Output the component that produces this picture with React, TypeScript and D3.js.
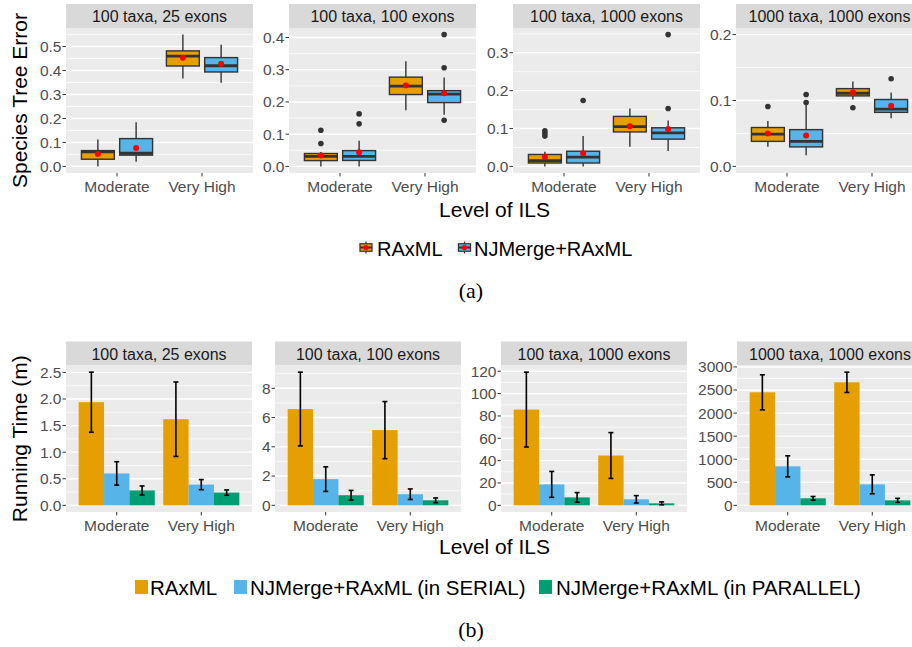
import * as d3 from "d3";

const levels = ["Moderate", "Very High"];
const datasets = ["100 taxa, 25 exons", "100 taxa, 100 exons", "100 taxa, 1000 exons", "1000 taxa, 1000 exons"];
const errorMethods = ["RAxML", "NJMerge+RAxML"];
const timeMethods = ["RAxML", "NJMerge+RAxML (in SERIAL)", "NJMerge+RAxML (in PARALLEL)"];

// [lower whisker, Q1, median, Q3, upper whisker, mean] per dataset, per level
const raxmlError = [
  [[0.0, 0.03, 0.061, 0.066, 0.112, 0.052], [0.367, 0.419, 0.46, 0.482, 0.55, 0.453]],
  [[0.0, 0.018, 0.031, 0.04, 0.045, 0.034], [0.174, 0.223, 0.249, 0.277, 0.326, 0.251]],
  [[0.0, 0.009, 0.0155, 0.0315, 0.039, 0.025], [0.052, 0.091, 0.105, 0.132, 0.153, 0.106]],
  [[0.03, 0.038, 0.049, 0.059, 0.069, 0.05], [0.1015, 0.107, 0.111, 0.118, 0.129, 0.1126]],
];
const njmergeError = [
  [[0.019, 0.047, 0.055, 0.116, 0.184, 0.077], [0.349, 0.394, 0.42, 0.454, 0.508, 0.428]],
  [[0.0, 0.0185, 0.031, 0.049, 0.08, 0.044], [0.16, 0.198, 0.224, 0.235, 0.276, 0.227]],
  [[0.0, 0.009, 0.0245, 0.04, 0.08, 0.035], [0.041, 0.072, 0.0884, 0.102, 0.121, 0.099]],
  [[0.017, 0.0296, 0.038, 0.0558, 0.095, 0.047], [0.073, 0.082, 0.087, 0.1015, 0.112, 0.092]],
];
const raxmlErrorOutliers = [
  [[], []],
  [[0.071, 0.112], []],
  [[0.08, 0.0875, 0.094], []],
  [[0.091], [0.089]],
];
const njmergeErrorOutliers = [
  [[], []],
  [[0.132, 0.163], [0.143, 0.306, 0.409]],
  [[0.174], [0.153, 0.348]],
  [[0.097, 0.109], [0.133]],
];
const errorLimits = [[0, 0], [0, 0], [0, 0], [0, 0.2]];
const errorTicks = [
  [0, 0.1, 0.2, 0.3, 0.4, 0.5],
  [0, 0.1, 0.2, 0.3, 0.4],
  [0, 0.1, 0.2, 0.3],
  [0, 0.1, 0.2],
];

// mean running time (minutes) and standard deviation, per dataset, per level
const raxmlTime = [[1.94, 1.62], [6.58, 5.14], [85.7, 44.6], [2450, 2667]];
const raxmlTimeSd = [[0.565, 0.7], [2.52, 1.95], [33.5, 20.5], [380, 220]];
const serialTime = [[0.6, 0.39], [1.79, 0.76], [18.75, 5.4], [846, 455]];
const serialTimeSd = [[0.22, 0.095], [0.84, 0.36], [11.6, 3.3], [228, 205]];
const parallelTime = [[0.28, 0.24], [0.69, 0.345], [7.1, 1.8], [152, 108]];
const parallelTimeSd = [[0.085, 0.05], [0.33, 0.16], [4.3, 1.3], [40, 44]];
const timeTicks = [
  [0, 0.5, 1, 1.5, 2, 2.5],
  [0, 2, 4, 6, 8],
  [0, 20, 40, 60, 80, 100, 120],
  [0, 500, 1000, 1500, 2000, 2500, 3000],
];

const COLORS = ["#E69F00", "#56B4E9", "#009E73"];
const FONT = "'Liberation Sans', Arial, Helvetica, sans-serif";
const W = 912;
const H = 647;
const STRIP_H = 24;
const TOP = { panelTop: 28, panelBottom: 173, xs: [66, 289, 513, 736], w: 187 };
const BOT = { panelTop: 365.5, panelBottom: 512, xs: [66, 275, 501, 737], w: 186 };

const expand = (lo: number, hi: number): [number, number] => {
  const pad = (hi - lo) * 0.05;
  return [lo - pad, hi + pad];
};

function minorTicks(ticks: number[], domain: [number, number]) {
  const step = ticks[1] - ticks[0];
  const cand = [ticks[0] - step / 2, ...ticks.map((t) => t + step / 2)];
  return cand.filter((t) => t > domain[0] && t < domain[1]);
}

interface FrameProps {
  x0: number;
  w: number;
  top: number;
  bottom: number;
  title: string;
  y: d3.ScaleLinear<number, number>;
  ticks: number[];
  fmt: (v: number) => string;
  xPos: d3.ScalePoint<string>;
  children?: any;
}

function Frame({ x0, w, top, bottom, title, y, ticks, fmt, xPos, children }: FrameProps) {
  const domain = y.domain() as [number, number];
  const minors = minorTicks(ticks, domain);
  return (
    <g>
      <rect x={x0} y={top - STRIP_H} width={w} height={STRIP_H} fill="#D9D9D9" />
      <text x={x0 + w / 2} y={top - STRIP_H + 18} textAnchor="middle" fontSize={16} fill="#1A1A1A">
        {title}
      </text>
      <rect x={x0} y={top} width={w} height={bottom - top} fill="#EBEBEB" />
      {minors.map((t) => (
        <line key={"m" + t} x1={x0} x2={x0 + w} y1={y(t)} y2={y(t)} stroke="#fff" strokeWidth={0.7} />
      ))}
      {ticks.map((t) => (
        <line key={"g" + t} x1={x0} x2={x0 + w} y1={y(t)} y2={y(t)} stroke="#fff" strokeWidth={1.4} />
      ))}
      {levels.map((l) => (
        <line key={"gx" + l} x1={x0 + xPos(l)!} x2={x0 + xPos(l)!} y1={top} y2={bottom} stroke="#fff" strokeWidth={0} />
      ))}
      {ticks.map((t) => (
        <g key={"t" + t}>
          <line x1={x0 - 3.5} x2={x0} y1={y(t)} y2={y(t)} stroke="#333" strokeWidth={1} />
          <text x={x0 - 4.5} y={y(t)} dy="0.35em" textAnchor="end" fontSize={15.5} fill="#4D4D4D">
            {fmt(t)}
          </text>
        </g>
      ))}
      {levels.map((l) => (
        <g key={"x" + l}>
          <line x1={x0 + xPos(l)!} x2={x0 + xPos(l)!} y1={bottom} y2={bottom + 3.5} stroke="#333" strokeWidth={1} />
          <text x={x0 + xPos(l)!} y={bottom + 18.5} textAnchor="middle" fontSize={15.5} fill="#4D4D4D">
            {l}
          </text>
        </g>
      ))}
      {children}
    </g>
  );
}

function ErrorPanel({ i }: { i: number }) {
  const x0 = TOP.xs[i];
  const w = TOP.w;
  const series = [raxmlError[i], njmergeError[i]];
  const outs = [raxmlErrorOutliers[i], njmergeErrorOutliers[i]];
  const all = [
    ...series.flat(2),
    ...outs.flat(2),
    ...errorLimits[i],
  ];
  const y = d3.scaleLinear().domain(expand(d3.min(all)!, d3.max(all)!)).range([TOP.panelBottom, TOP.panelTop]);
  const xPos = d3.scalePoint<string>().domain(levels).range([0, w]).padding(0.6);
  const step = xPos.step();
  const slot = 0.45 * step;
  const boxW = slot * 0.86;
  return (
    <Frame x0={x0} w={w} top={TOP.panelTop} bottom={TOP.panelBottom} title={datasets[i]} y={y}
      ticks={errorTicks[i]} fmt={(v) => v.toFixed(1)} xPos={xPos}>
      {levels.map((l, li) =>
        series.map((s, si) => {
          const [lo, q1, med, q3, hi, mean] = s[li];
          const cx = x0 + xPos(l)! + (si - 0.5) * slot;
          return (
            <g key={l + si}>
              <line x1={cx} x2={cx} y1={y(hi)} y2={y(q3)} stroke="#333" strokeWidth={1.4} />
              <line x1={cx} x2={cx} y1={y(q1)} y2={y(lo)} stroke="#333" strokeWidth={1.4} />
              <rect x={cx - boxW / 2} y={y(q3)} width={boxW} height={y(q1) - y(q3)}
                fill={COLORS[si]} stroke="#333" strokeWidth={1.4} />
              <line x1={cx - boxW / 2} x2={cx + boxW / 2} y1={y(med)} y2={y(med)} stroke="#333" strokeWidth={2.8} />
              {outs[si][li].map((o) => (
                <circle key={o} cx={cx} cy={y(o)} r={2.8} fill="#333" />
              ))}
              <circle cx={cx} cy={y(mean)} r={3} fill="#FF0000" />
            </g>
          );
        })
      )}
    </Frame>
  );
}

function TimePanel({ i }: { i: number }) {
  const x0 = BOT.xs[i];
  const w = BOT.w;
  const means = [raxmlTime[i], serialTime[i], parallelTime[i]];
  const sds = [raxmlTimeSd[i], serialTimeSd[i], parallelTimeSd[i]];
  const maxV = d3.max(means.flatMap((m, k) => m.map((v, j) => v + sds[k][j])))!;
  const y = d3.scaleLinear().domain(expand(0, maxV)).range([BOT.panelBottom, BOT.panelTop]);
  const xPos = d3.scalePoint<string>().domain(levels).range([0, w]).padding(0.6);
  const barW = 0.3 * xPos.step();
  const fmt = i === 0 ? (v: number) => v.toFixed(1) : (v: number) => String(v);
  return (
    <Frame x0={x0} w={w} top={BOT.panelTop} bottom={BOT.panelBottom} title={datasets[i]} y={y}
      ticks={timeTicks[i]} fmt={fmt} xPos={xPos}>
      {levels.map((l, li) =>
        means.map((m, k) => {
          const cx = x0 + xPos(l)! + (k - 1) * barW;
          const v = m[li];
          const sd = sds[k][li];
          return (
            <g key={l + k}>
              <rect x={cx - barW / 2} y={y(v)} width={barW} height={y(0) - y(v)} fill={COLORS[k]} />
              <line x1={cx} x2={cx} y1={y(v + sd)} y2={y(v - sd)} stroke="#000" strokeWidth={1.6} />
              <line x1={cx - 2.5} x2={cx + 2.5} y1={y(v + sd)} y2={y(v + sd)} stroke="#000" strokeWidth={1.6} />
              <line x1={cx - 2.5} x2={cx + 2.5} y1={y(v - sd)} y2={y(v - sd)} stroke="#000" strokeWidth={1.6} />
            </g>
          );
        })
      )}
    </Frame>
  );
}

function BoxKey({ x, y, color }: { x: number; y: number; color: string }) {
  const s = 15;
  return (
    <g>
      <rect x={x} y={y} width={s} height={s} fill="#F2F2F2" />
      <line x1={x + s / 2} x2={x + s / 2} y1={y + 1.5} y2={y + s - 1.5} stroke="#333" strokeWidth={1.2} />
      <rect x={x + 1.5} y={y + 3.75} width={s - 3} height={7.5} fill={color} stroke="#333" strokeWidth={1.2} />
      <line x1={x + 1.5} x2={x + s - 1.5} y1={y + s / 2} y2={y + s / 2} stroke="#333" strokeWidth={2} />
      <circle cx={x + s / 2} cy={y + s / 2} r={2.6} fill="#FF0000" />
    </g>
  );
}

export default function App() {
  const topLegendX = [358.5, 457];
  const topTextX = [377, 474];
  const botSwatchX = [135, 234, 539];
  const botTextX = [150, 250, 556];
  return (
    <svg width={W} height={H} viewBox={`0 0 ${W} ${H}`} fontFamily={FONT}
      style={{ position: "absolute", left: 0, top: 0, background: "#fff" }}>
      {datasets.map((_, i) => (
        <ErrorPanel key={"e" + i} i={i} />
      ))}
      {datasets.map((_, i) => (
        <TimePanel key={"t" + i} i={i} />
      ))}
      <text transform={`translate(27,${(TOP.panelTop + TOP.panelBottom) / 2}) rotate(-90)`} textAnchor="middle" fontSize={21}>
        Species Tree Error
      </text>
      <text transform={`translate(27,${(BOT.panelTop + BOT.panelBottom) / 2}) rotate(-90)`} textAnchor="middle" fontSize={21}>
        Running Time (m)
      </text>
      <text x={494.5} y={216.5} textAnchor="middle" fontSize={21}>Level of ILS</text>
      <text x={494.5} y={554} textAnchor="middle" fontSize={21}>Level of ILS</text>
      {errorMethods.map((m, k) => (
        <g key={m}>
          <BoxKey x={topLegendX[k]} y={240} color={COLORS[k]} />
          <text x={topTextX[k]} y={255.5} fontSize={20}>{m}</text>
        </g>
      ))}
      {timeMethods.map((m, k) => (
        <g key={m}>
          <rect x={botSwatchX[k]} y={580} width={13} height={14} fill={COLORS[k]} />
          <text x={botTextX[k]} y={594.5} fontSize={20.5}>{m}</text>
        </g>
      ))}
      <text x={471} y={298} textAnchor="middle" fontSize={22} fontFamily="'Liberation Serif', 'DejaVu Serif', serif">(a)</text>
      <text x={471} y={637} textAnchor="middle" fontSize={22} fontFamily="'Liberation Serif', 'DejaVu Serif', serif">(b)</text>
    </svg>
  );
}
